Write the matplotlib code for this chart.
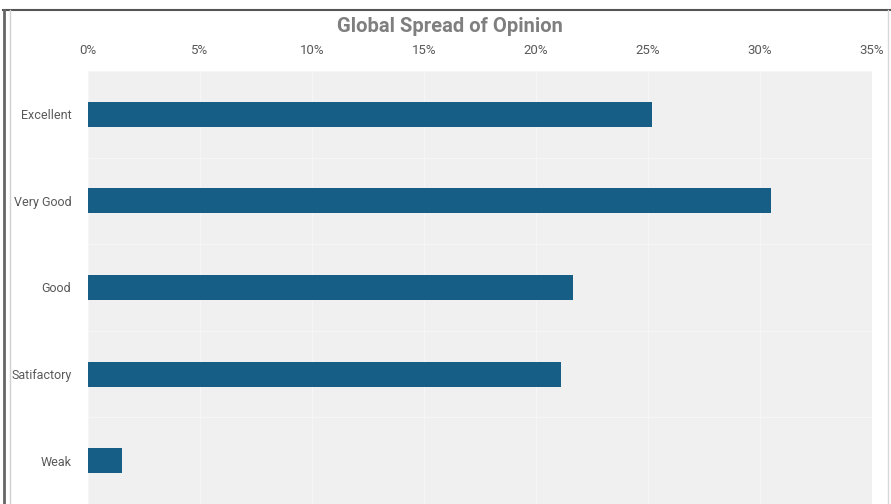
import matplotlib

matplotlib.use("Agg")

import matplotlib.pyplot as plt
from matplotlib.lines import Line2D
from matplotlib.ticker import FuncFormatter, MultipleLocator

categories = ["Excellent", "Very Good", "Good", "Satifactory", "Weak"]
shares = [25.2, 30.5, 21.65, 21.1, 1.5]
x_ticks = [0, 5, 10, 15, 20, 25, 30, 35]

plt.rcParams["font.family"] = ["Roboto", "DejaVu Sans"]

W, H = 891, 504
fig = plt.figure(figsize=(W / 100, H / 100), dpi=100)
fig.patch.set_facecolor("white")

ax = fig.add_axes([88 / W, 0.0, 784 / W, 433 / H])
ax.set_facecolor("#f0f0f0")

ypos = list(range(len(categories)))
ax.barh(ypos, shares, height=0.29, color="#175e86", zorder=3)

ax.set_xlim(0, 35)
ax.set_ylim(len(categories) - 0.5, -0.5)
ax.set_xticks(x_ticks)
ax.xaxis.set_major_formatter(FuncFormatter(lambda v, _: f"{v:.0f}%"))
ax.xaxis.tick_top()
ax.set_yticks(ypos)
ax.set_yticklabels(categories)
ax.yaxis.set_minor_locator(MultipleLocator(1, offset=0.5))

ax.tick_params(axis="x", which="both", length=0, pad=10, labelsize=9.5, labelcolor="#595959")
ax.tick_params(axis="y", which="both", length=0, pad=12, labelsize=9, labelcolor="#595959")
ax.grid(axis="x", which="major", color="#f6f6f6", linewidth=0.9, zorder=1)
ax.grid(axis="y", which="minor", color="#f6f6f6", linewidth=0.9, zorder=1)
for s in ax.spines.values():
    s.set_visible(False)

fig.text(450 / W, 1 - 26 / H, "Global Spread of Opinion", ha="center", va="center",
         fontsize=14.5, fontweight="bold", color="#7f7f7f")

# frame lines from the screenshot
def px_line(x0, y0, x1, y1, color, lw):
    fig.add_artist(Line2D([x0 / W, x1 / W], [1 - y0 / H, 1 - y1 / H],
                          transform=fig.transFigure, color=color, linewidth=lw))

px_line(3, 10, W, 10, "#555555", 1.5)
px_line(3.5, 10, 3.5, H, "#666666", 2.0)
px_line(10, 10, 10, H, "#d0d0d0", 1.0)
px_line(888, 10, 888, H, "#d8d8d8", 1.0)

fig.savefig("out.png", dpi=100)
